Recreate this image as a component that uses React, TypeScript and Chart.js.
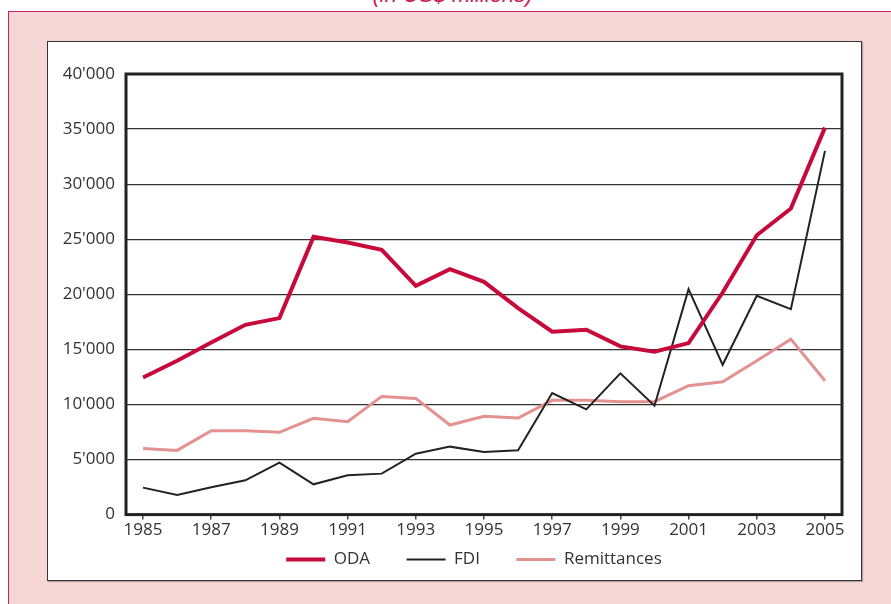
import { useEffect, useRef } from 'react';
import { Chart, registerables } from 'chart.js';

Chart.register(...registerables);

const years = ['1985', '1986', '1987', '1988', '1989', '1990', '1991', '1992', '1993', '1994', '1995', '1996', '1997', '1998', '1999', '2000', '2001', '2002', '2003', '2004', '2005'];
const oda = [12440, 13970, 15630, 17230, 17840, 25215, 24700, 24035, 20770, 22280, 21130, 18750, 16600, 16780, 15270, 14780, 15570, 20160, 25360, 27780, 35130];
const fdi = [2450, 1790, 2480, 3110, 4720, 2750, 3570, 3720, 5530, 6170, 5690, 5840, 11040, 9550, 12820, 9890, 20470, 13600, 19860, 18650, 33020];
const remittances = [5990, 5830, 7620, 7620, 7470, 8740, 8435, 10730, 10550, 8130, 8920, 8770, 10370, 10370, 10250, 10250, 11700, 12060, 13970, 15930, 12150];
const yTicks = [0, 5000, 10000, 15000, 20000, 25000, 30000, 35000, 40000];
const seriesNames = ['ODA', 'FDI', 'Remittances'];

const FONT = '"Open Sans", "DejaVu Sans", sans-serif';
const GAP = '\u2002\u2002\u2002';

function fmt(v: number): string {
  if (v === 0) return '0';
  const th = Math.floor(v / 1000);
  const rest = String(v % 1000).padStart(3, '0');
  return th + "'" + rest;
}

const framePlugin = {
  id: 'frame',
  afterLayout(chart: any) {
    const lg = chart.legend;
    if (lg) {
      lg.left += 29;
      lg.right += 29;
    }
  },
  beforeDatasetsDraw(chart: any) {
    const { ctx, chartArea } = chart;
    ctx.save();
    ctx.strokeStyle = '#222';
    ctx.lineWidth = 3;
    ctx.strokeRect(chartArea.left, chartArea.top, chartArea.right - chartArea.left, chartArea.bottom - chartArea.top);
    ctx.restore();
  },
};

export default function App() {
  const ref = useRef<HTMLCanvasElement | null>(null);

  useEffect(() => {
    if (!ref.current) return;
    const chart = new Chart(ref.current, {
      type: 'line',
      data: {
        labels: years,
        datasets: [
          { label: seriesNames[0], data: oda, borderColor: '#c70a3c', backgroundColor: '#c70a3c', borderWidth: 4, pointRadius: 0, tension: 0 },
          { label: seriesNames[1], data: fdi, borderColor: '#222222', backgroundColor: '#222222', borderWidth: 2, pointRadius: 0, tension: 0 },
          { label: seriesNames[2], data: remittances, borderColor: '#e39191', backgroundColor: '#e39191', borderWidth: 3, pointRadius: 0, tension: 0 },
        ],
      },
      options: {
        animation: false,
        responsive: false,
        maintainAspectRatio: false,
        layout: { padding: { left: 0, right: 19, top: 32, bottom: 2 } },
        plugins: {
          legend: {
            position: 'bottom',
            labels: {
              usePointStyle: true,
              pointStyle: 'line',
              pointStyleWidth: 39,
              padding: 11,
              color: '#333',
              font: { family: FONT, size: 17 },
              generateLabels: (c: any) => {
                const items = Chart.defaults.plugins.legend.labels.generateLabels(c);
                return items.map((it: any, i: number) => ({ ...it, text: i < items.length - 1 ? it.text + GAP : it.text }));
              },
            },
          },
          tooltip: { enabled: false },
        },
        scales: {
          x: {
            type: 'category',
            offset: true,
            border: { display: false },
            grid: { drawOnChartArea: false, drawTicks: true, tickLength: 5, color: '#444', lineWidth: 1.5 },
            ticks: {
              autoSkip: false,
              maxRotation: 0,
              padding: 0,
              color: '#333',
              font: { family: FONT, size: 17 },
              callback: (_v: any, i: number) => (i % 2 === 0 ? years[i] : null),
            },
          },
          y: {
            min: 0,
            max: 40000,
            border: { display: false },
            afterFit: (s: any) => { s.width = 78; },
            afterBuildTicks: (s: any) => { s.ticks = yTicks.map((v) => ({ value: v })); },
            grid: { drawTicks: false, color: '#333', lineWidth: 1.3 },
            ticks: {
              padding: 11,
              color: '#333',
              font: { family: FONT, size: 17 },
              callback: (v: any) => fmt(Number(v)),
            },
          },
        },
      },
      plugins: [framePlugin],
    } as any);
    return () => chart.destroy();
  }, []);

  return (
    <div style={{ position: 'fixed', left: 0, top: 0, width: 891, height: 604, background: '#fff', overflow: 'hidden', fontFamily: FONT }}>
      <div
        style={{
          position: 'absolute', left: 0, right: 0, top: -17, textAlign: 'center',
          paddingLeft: 14, fontStyle: 'italic', fontSize: 22, color: '#c8205a', lineHeight: '24px',
          fontFamily: '"Liberation Sans", Arial, sans-serif',
        }}
      >
        (in US$ millions)
      </div>
      <div style={{ position: 'absolute', left: 8, top: 11, width: 1000, height: 1000, background: '#f6d7d6', borderLeft: '1px solid #c8205a', borderTop: '1px solid #c8205a' }} />
      <div style={{ position: 'absolute', left: 47, top: 41, width: 815, height: 540, background: '#fff', border: '1px solid #333', boxSizing: 'border-box', boxShadow: '1px 1px 1px rgba(0,0,0,0.25)' }}>
        <canvas ref={ref} width={813} height={538} style={{ position: 'absolute', left: 0, top: 0, width: 813, height: 538 }} />
      </div>
    </div>
  );
}
